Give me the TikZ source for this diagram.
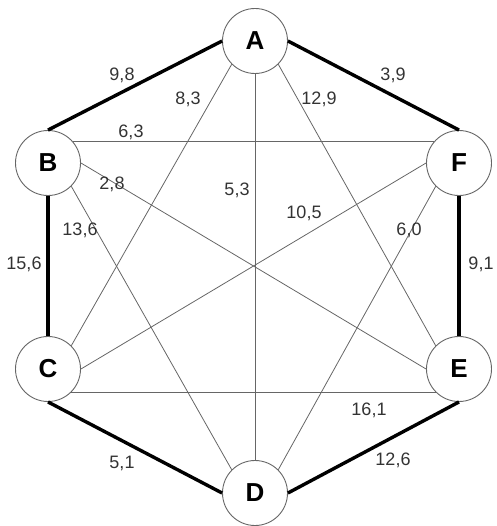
\documentclass[tikz,border=0pt]{standalone}
\usepackage{fontspec}
\setmainfont{Liberation Sans}
\usepackage{tikz}

\begin{document}
\begin{tikzpicture}[
  x=1pt, y=-1pt,
  vertex/.style={circle, draw=black!60, fill=white, line width=0.9pt,
                 minimum size=65pt, inner sep=0pt,
                 font=\fontsize{26}{26}\selectfont\bfseries},
  tour/.style={line width=3.4pt, draw=black},
  chord/.style={line width=0.8pt, draw=black!60},
  weight/.style={font=\fontsize{18}{18}\selectfont, text=black!80, inner sep=0pt}
]
  \useasboundingbox (0,0) rectangle (496,526);

  % Vertices
  \node[vertex] (A) at (255,41)  {A};
  \node[vertex] (B) at (48,163)  {B};
  \node[vertex] (F) at (459,163) {F};
  \node[vertex] (C) at (48,369)  {C};
  \node[vertex] (E) at (459,369) {E};
  \node[vertex] (D) at (255,493) {D};

  % Chords
  \draw[chord] (B.40) -- (F.140);
  \draw[chord] (C.-45) -- (E.-135);
  \draw[chord] (A.south) -- (D.north);
  \draw[chord] (A.south west) -- (C.north east);
  \draw[chord] (A.south east) -- (E.north west);
  \draw[chord] (B.east) -- (E.west);
  \draw[chord] (F.west) -- (C.east);
  \draw[chord] (B.south east) -- (D.north west);
  \draw[chord] (F.south west) -- (D.north east);

  % Tour
  \draw[tour] (B.north) -- (A.west);
  \draw[tour] (A.east) -- (F.north);
  \draw[tour] (B.south) -- (C.north);
  \draw[tour] (F.south) -- (E.north);
  \draw[tour] (C.south) -- (D.west);
  \draw[tour] (D.east) -- (E.south);

  % Weights
  \node[weight] (wab) at (122,75)  {9,8};
  \node[weight] (waf) at (393,75)  {3,9};
  \node[weight] (wac) at (188,99)  {8,3};
  \node[weight] (wae) at (319,99)  {12,9};
  \node[weight] (wbf) at (131,132) {6,3};
  \node[weight] (wbe) at (112,184) {2,8};
  \node[weight] (wad) at (237,190) {5,3};
  \node[weight] (wfc) at (304,213) {10,5};
  \node[weight] (wbd) at (80,230)  {13,6};
  \node[weight] (wfd) at (409,230) {6,0};
  \node[weight] (wbc) at (24,264)  {15,6};
  \node[weight] (wfe) at (481,264) {9,1};
  \node[weight] (wce) at (369,410) {16,1};
  \node[weight] (wcd) at (122,463) {5,1};
  \node[weight] (wde) at (393,460) {12,6};
\end{tikzpicture}
\end{document}
